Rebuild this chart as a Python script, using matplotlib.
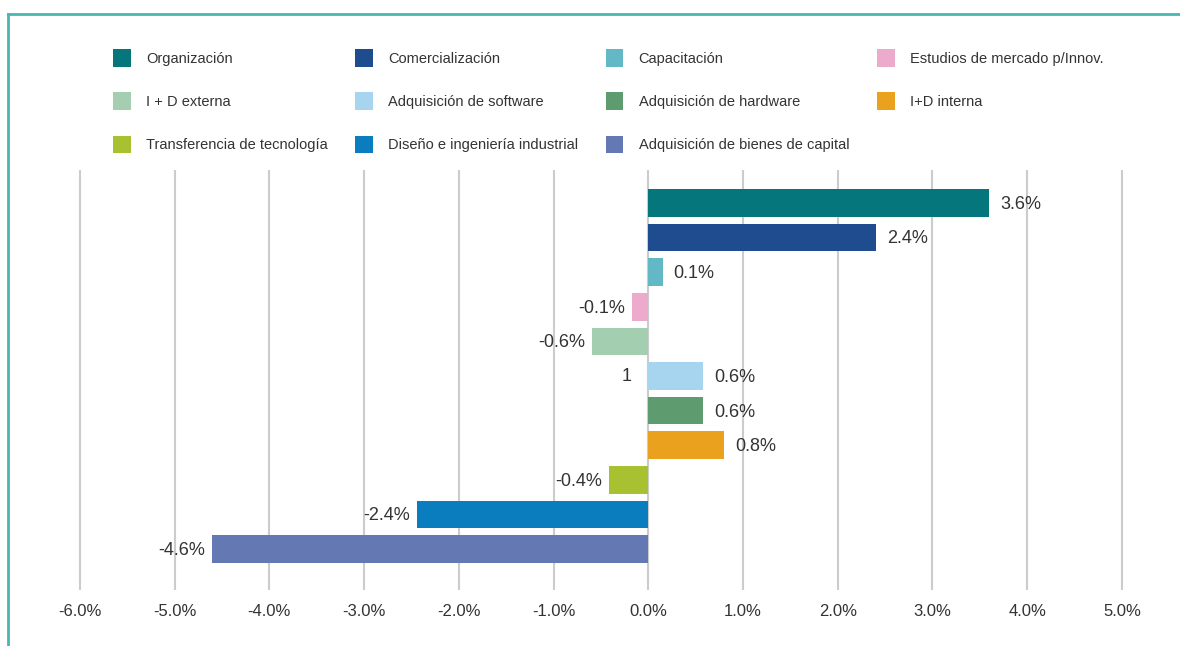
import matplotlib.pyplot as plt
from matplotlib.lines import Line2D
from matplotlib.patches import Patch

plt.rcParams['font.family'] = ['Liberation Sans', 'DejaVu Sans']

# data (percent)
categories = ["Organización", "Comercialización", "Capacitación",
              "Estudios de mercado p/Innov.", "I + D externa",
              "Adquisición de software", "Adquisición de hardware",
              "I+D interna", "Transferencia de tecnología",
              "Diseño e ingeniería industrial",
              "Adquisición de bienes de capital"]
values = [3.6, 2.4, 0.15, -0.17, -0.59, 0.58, 0.58, 0.80, -0.41, -2.44, -4.61]
value_labels = ["3.6%", "2.4%", "0.1%", "-0.1%", "-0.6%", "0.6%", "0.6%",
                "0.8%", "-0.4%", "-2.4%", "-4.6%"]
colors = ["#05767b", "#1e4c8e", "#62b8c5", "#ecabcd", "#a3cfb0", "#a7d5ef",
          "#5e9b6f", "#e9a11e", "#a8c130", "#0a7dbf", "#6478b3"]
xticks = [-6, -5, -4, -3, -2, -1, 0, 1, 2, 3, 4, 5]

fig = plt.figure(figsize=(11.8, 6.46), dpi=100)
ax = fig.add_axes([32.6 / 1180, 1 - 590 / 646, 1136.7 / 1180, 420 / 646])

ypos = list(range(len(values)))
ax.barh(ypos, values, height=0.8, color=colors, zorder=3)

for y, v, lab in zip(ypos, values, value_labels):
    if v >= 0:
        ax.annotate(lab, (v, y), xytext=(8, -1), textcoords='offset points',
                    ha='left', va='center', fontsize=13, color='#333333')
    else:
        ax.annotate(lab, (v, y), xytext=(-5, -1), textcoords='offset points',
                    ha='right', va='center', fontsize=13, color='#333333')

# stray label left of the software bar in the original
ax.text(-0.18, 5, "1", ha='right', va='center', fontsize=13, color='#333333')

ax.set_xlim(-6.5, 5.5)
ax.set_ylim(len(values) - 1 + 1.18, -0.95)
ax.set_xticks(xticks)
ax.set_xticklabels([f"{t:.1f}%" for t in xticks], fontsize=12, color='#333333')
ax.set_yticks([])
ax.tick_params(axis='x', length=0, pad=10)
ax.grid(axis='x', color='#cccccc', linewidth=1.5, zorder=0)
for s in ax.spines.values():
    s.set_visible(False)

# legend, laid out row by row like the original
handles = [Patch(facecolor=c, edgecolor='none') for c in colors]
order = [0, 4, 8, 1, 5, 9, 2, 6, 10, 3, 7]
fig.legend([handles[i] for i in order], [categories[i] for i in order],
           ncol=4, loc='upper left', bbox_to_anchor=(113 / 1180, 1 - 49 / 646),
           frameon=False, fontsize=10.5, borderpad=0, borderaxespad=0,
           handlelength=1.2, handleheight=1.5, handletextpad=1.05,
           columnspacing=1.9, labelspacing=1.75, labelcolor='#333333')

# teal frame (top and left edges)
fig.add_artist(Line2D([8 / 1180, 1], [1 - 14 / 646, 1 - 14 / 646],
                      transform=fig.transFigure, color='#4ab6b1', lw=2))
fig.add_artist(Line2D([8 / 1180, 8 / 1180], [0, 1 - 14 / 646],
                      transform=fig.transFigure, color='#4ab6b1', lw=2))

fig.savefig("out.png", dpi=100)
